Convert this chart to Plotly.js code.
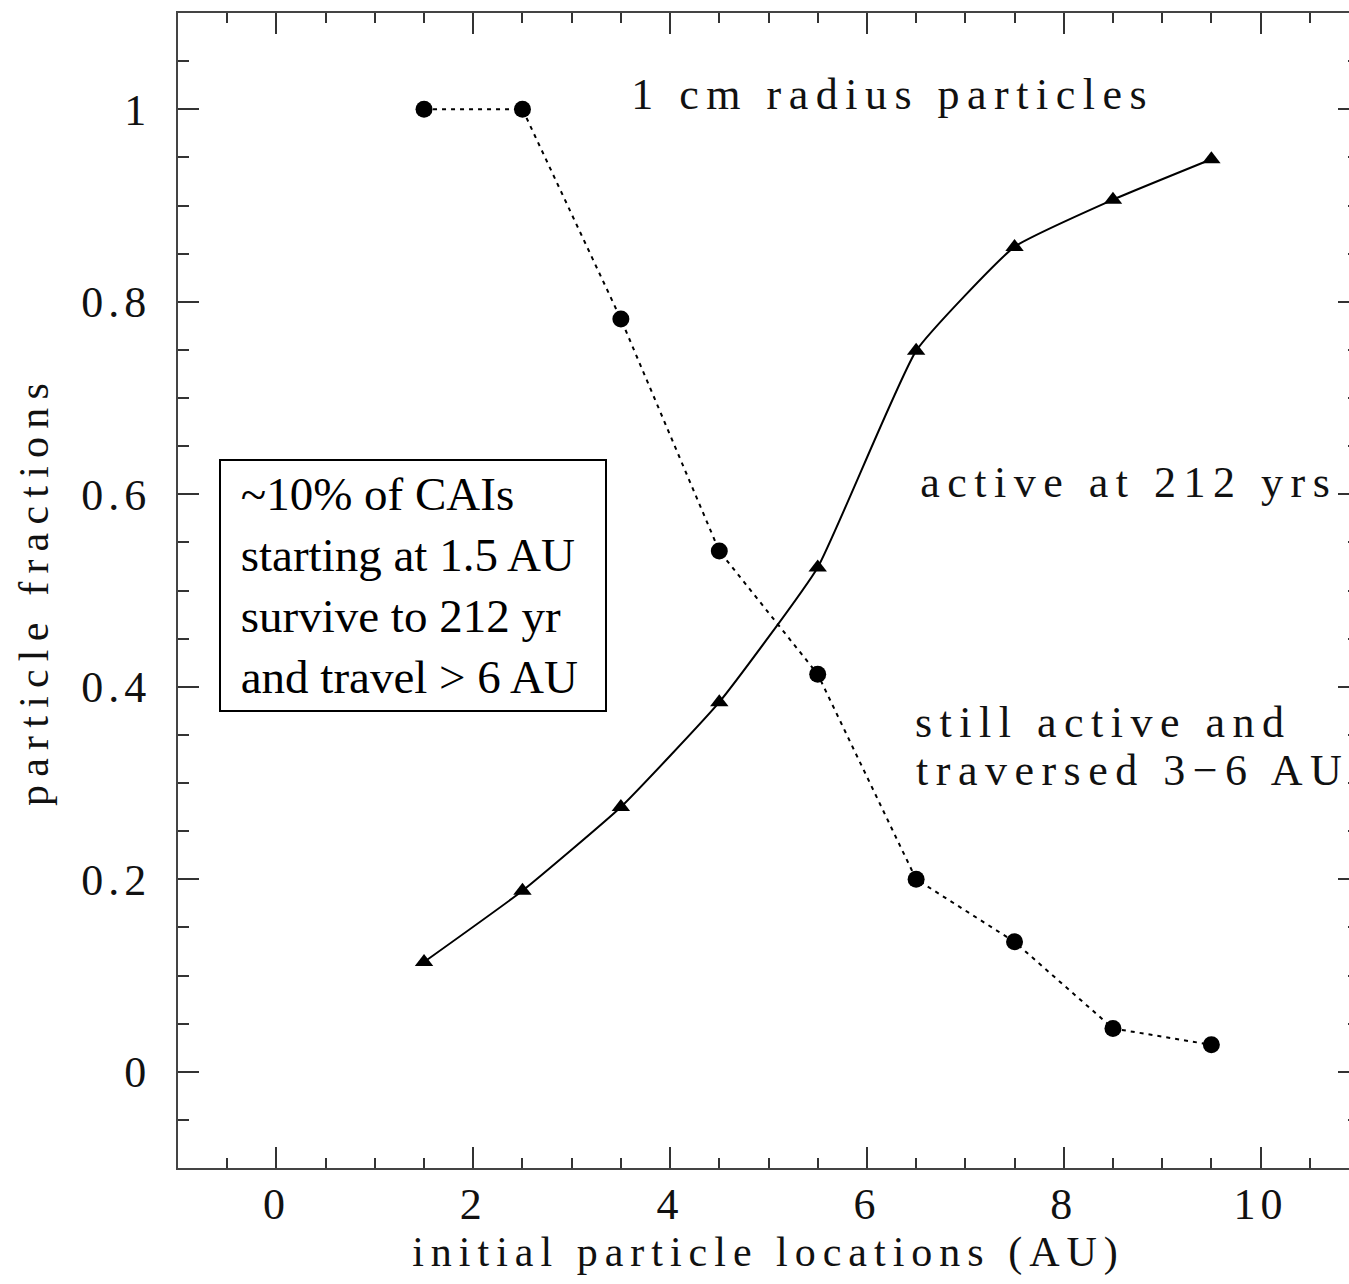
<!DOCTYPE html>
<html><head><meta charset="utf-8">
<script src="https://cdn.plot.ly/plotly-3.0.1.min.js"></script>
<style>
html,body{margin:0;padding:0;overflow:hidden;background:#fff;}
#chart{width:1380px;height:1284px;}
.xtick text,.ytick text{letter-spacing:5px;}
.g-xtitle text{letter-spacing:7px;}
.g-ytitle text{letter-spacing:8.2px;}
g.annotation:not([data-index="0"]) text{letter-spacing:7.5px;}
</style></head><body><div id="chart"></div>
<script>
// initial particle locations (AU)
const locations = [1.5, 2.5, 3.5, 4.5, 5.5, 6.5, 7.5, 8.5, 9.5];
// fraction still active and traversed 3-6 AU (dotted, circles)
const traversedFraction = [1.0, 1.0, 0.782, 0.541, 0.413, 0.200, 0.135, 0.045, 0.028];
// fraction active at 212 yrs (solid, triangles)
const activeFraction = [0.114, 0.188, 0.275, 0.384, 0.524, 0.749, 0.857, 0.906, 0.948];

const xTickValues = [0, 2, 4, 6, 8, 10];
const xTickLabels = ['0', '2', '4', '6', '8', '10'];
const yTickValues = [0, 0.2, 0.4, 0.6, 0.8, 1];
const yTickLabels = ['0', '0.2', '0.4', '0.6', '0.8', '1'];

const boxLines = ['~10% of CAIs', 'starting at 1.5 AU', 'survive to 212 yr', 'and travel &gt; 6 AU'];

const FONT = 'Liberation Serif, Times New Roman, serif';
const INK = '#111';

const traces = [
  {
    x: locations, y: traversedFraction, type: 'scatter', mode: 'lines+markers',
    name: 'still active and traversed 3-6 AU',
    line: {color: '#000', width: 2, dash: '4px,5px'},
    marker: {symbol: 'circle', size: 17, color: '#000'}
  },
  {
    x: locations, y: activeFraction, type: 'scatter', mode: 'lines+markers',
    name: 'active at 212 yrs',
    line: {color: '#000', width: 2, shape: 'spline', smoothing: 0.4},
    marker: {symbol: 'triangle-up', size: 16, color: '#000'}
  }
];

const axisCommon = {
  showline: true, linecolor: '#444', linewidth: 2, mirror: 'ticks',
  ticks: 'inside', ticklen: 21, tickwidth: 2, tickcolor: '#333',
  showgrid: false, zeroline: false, tickmode: 'array',
  tickfont: {family: FONT, size: 44, color: INK}
};

const layout = {
  width: 1380, height: 1284,
  margin: {l: 178, r: 20.5, t: 13, b: 116, autoexpand: false},
  paper_bgcolor: '#fff', plot_bgcolor: '#fff',
  showlegend: false,
  xaxis: Object.assign({}, axisCommon, {
    range: [-1, 11], tickvals: xTickValues, ticktext: xTickLabels,
    ticklabelstandoff: -4,
    minor: {tickmode: 'linear', tick0: 0, dtick: 0.5, ticks: 'inside', ticklen: 10, tickwidth: 2, tickcolor: '#333'},
    title: {text: 'initial particle locations (AU)', font: {family: FONT, size: 42, color: INK}, standoff: 9}
  }),
  yaxis: Object.assign({}, axisCommon, {
    range: [-0.1, 1.1], tickvals: yTickValues, ticktext: yTickLabels,
    ticklabelstandoff: 16,
    minor: {tickmode: 'linear', tick0: 0, dtick: 0.05, ticks: 'inside', ticklen: 11, tickwidth: 2, tickcolor: '#333'},
    title: {text: 'particle fractions', font: {family: FONT, size: 42, color: INK}, standoff: 20}
  }),
  annotations: [
    {
      x: 1.39, y: 0.5047, xref: 'x', yref: 'y', xanchor: 'center', yanchor: 'middle',
      text: boxLines.map(s => '&nbsp;' + s).join('<br>'),
      align: 'left', showarrow: false, width: 368, height: 233,
      bordercolor: '#000', borderwidth: 2, borderpad: 8, bgcolor: '#fff',
      font: {family: FONT, size: 47, color: '#000'}
    },
    {
      x: 6.26, y: 1.015, xref: 'x', yref: 'y', xanchor: 'center', yanchor: 'middle',
      text: '1 cm radius particles', showarrow: false,
      font: {family: FONT, size: 44, color: INK}
    },
    {
      x: 8.66, y: 0.612, xref: 'x', yref: 'y', xanchor: 'center', yanchor: 'middle',
      text: 'active at 212 yrs', showarrow: false,
      font: {family: FONT, size: 44, color: INK}
    },
    {
      x: 8.40, y: 0.363, xref: 'x', yref: 'y', xanchor: 'center', yanchor: 'middle',
      text: 'still active and', showarrow: false,
      font: {family: FONT, size: 44, color: INK}
    },
    {
      x: 8.70, y: 0.313, xref: 'x', yref: 'y', xanchor: 'center', yanchor: 'middle',
      text: 'traversed 3\u22126 AU', showarrow: false,
      font: {family: FONT, size: 44, color: INK}
    }
  ]
};

Plotly.newPlot('chart', traces, layout, {displayModeBar: false, staticPlot: true});
</script></body></html>
